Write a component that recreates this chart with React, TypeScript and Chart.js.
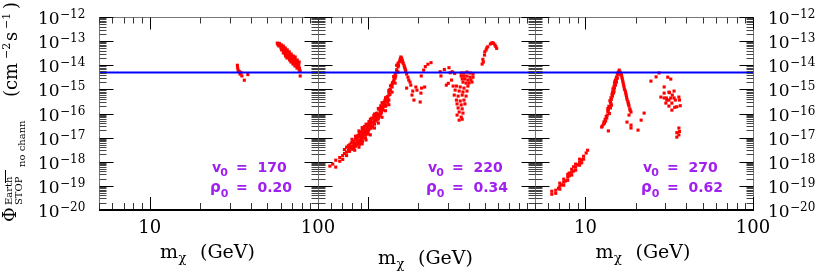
import React, { useEffect, useRef } from "react";
import { Chart, registerables } from "chart.js";
Chart.register(...registerables);

// ---------------- data ----------------
const MASS_MIN = 5;
const MASS_MAX = 100;
const FLUX_MIN = 1e-20;
const FLUX_MAX = 1e-12;
const FLUX_LIMIT = 5e-15;
const Y_TICK_EXPONENTS = [-12, -13, -14, -15, -16, -17, -18, -19, -20];
const MINOR_MULTIPLIERS = [2, 3, 4, 5, 6, 7, 8, 9];
const X_DECADES = [1, 10];
const X_TICK_LABELS = [[10, 100], [], [10, 100]];
const V0_VALUES = ["170", "220", "270"];
const RHO0_VALUES = ["0.20", "0.34", "0.62"];

// panel 1: v0 = 170, rho0 = 0.20  ([m_chi GeV, flux cm^-2 s^-1])
const panel1Points: [number, number][] = [
  [33.2, 1.0e-14], [33.3, 8.1e-15], [33.5, 6.3e-15], [34.2, 5.4e-15], [34.9, 4.9e-15],
  [34.4, 4.3e-15], [35.3, 3.6e-15], [36.5, 2.4e-15], [38.3, 4.1e-15], [33.8, 5.6e-15],
  [57.3, 8.3e-14], [58.9, 7.6e-14], [58.6, 6.3e-14], [57.8, 7.0e-14], [60.5, 7.0e-14],
  [60.2, 5.2e-14], [60.8, 4.3e-14], [62.2, 6.3e-14], [61.8, 5.2e-14], [62.6, 4.0e-14],
  [62.2, 3.3e-14], [63.9, 5.2e-14], [64.3, 4.3e-14], [63.5, 3.6e-14], [63.9, 2.9e-14],
  [64.2, 2.4e-14], [65.7, 4.3e-14], [65.3, 3.6e-14], [66.1, 2.9e-14], [65.7, 2.4e-14],
  [65.4, 2.0e-14], [67.5, 3.6e-14], [67.9, 2.9e-14], [67.1, 2.4e-14], [67.5, 2.0e-14],
  [67.8, 1.65e-14], [69.3, 2.9e-14], [68.9, 2.4e-14], [69.7, 2.0e-14], [69.3, 1.65e-14],
  [69.0, 1.36e-14], [71.3, 2.4e-14], [70.9, 2.0e-14], [71.7, 1.65e-14], [71.3, 1.36e-14],
  [71.0, 1.12e-14], [73.2, 2.2e-14], [72.8, 1.8e-14], [73.6, 1.5e-14], [73.2, 1.2e-14],
  [72.9, 9.3e-15], [75.3, 1.65e-14], [74.9, 1.36e-14], [75.7, 1.12e-14], [75.3, 9.3e-15],
  [75.0, 7.6e-15], [77.3, 1.36e-14], [76.9, 1.0e-14], [77.6, 7.6e-15], [77.3, 6.3e-15],
  [78.4, 3.6e-15], [78.4, 5.8e-15],
  [59.5, 6.8e-14], [61.2, 5.8e-14], [61.5, 4.7e-14], [63.0, 4.7e-14], [63.0, 3.2e-14],
  [64.8, 3.9e-14], [64.8, 2.6e-14], [66.5, 3.2e-14], [66.5, 2.2e-14], [68.4, 2.6e-14],
  [68.4, 1.8e-14], [70.3, 2.2e-14], [70.3, 1.5e-14], [72.2, 1.9e-14], [72.2, 1.25e-14],
  [74.2, 1.55e-14], [74.2, 1.05e-14], [76.2, 1.2e-14], [76.2, 8.4e-15], [59.0, 8.0e-14],
  [58.0, 7.9e-14],
];

// panel 2: v0 = 220, rho0 = 0.34
const panel2Points: [number, number][] = [
  [5.89, 6.6e-19], [6.13, 8.0e-19], [6.39, 6.0e-19], [6.39, 1.16e-18], [6.75, 1.5e-18],
  [6.75, 1.05e-18], [7.03, 1.8e-18], [7.03, 1.25e-18], [7.42, 2.5e-18], [7.42, 4.0e-18],
  [7.42, 1.8e-18], [7.73, 3.6e-18], [7.73, 2.7e-18], [7.73, 5.0e-18], [8.06, 4.4e-18],
  [8.06, 6.5e-18], [8.06, 3.3e-18], [8.39, 5.9e-18], [8.39, 8.7e-18], [8.39, 4.4e-18],
  [8.39, 1.15e-17], [8.86, 7.0e-18], [8.86, 1.05e-17], [8.86, 1.54e-17], [8.86, 5.3e-18],
  [9.23, 9.5e-18], [9.23, 1.4e-17], [9.23, 2.05e-17], [9.23, 7.0e-18], [9.62, 1.25e-17],
  [9.62, 1.85e-17], [9.62, 2.7e-17], [9.62, 9.5e-18], [10.0, 1.85e-17], [10.0, 2.7e-17],
  [10.0, 3.6e-17], [10.0, 1.4e-17], [10.4, 2.45e-17], [10.4, 3.6e-17], [10.4, 5.3e-17],
  [10.9, 3.6e-17], [10.9, 5.3e-17], [10.9, 7.0e-17], [11.3, 5.3e-17], [11.3, 7.8e-17],
  [11.3, 1.04e-16], [11.8, 8.6e-17], [11.8, 1.25e-16], [11.8, 1.7e-16], [12.3, 1.38e-16],
  [12.3, 2.03e-16], [12.3, 2.7e-16], [12.8, 2.25e-16], [12.8, 3.3e-16], [13.3, 3.6e-16],
  [13.3, 5.8e-16], [13.3, 7.7e-16], [13.9, 7.7e-16], [13.9, 1.25e-15], [13.9, 1.65e-15],
  [14.5, 1.82e-15], [14.5, 2.94e-15], [14.5, 4.3e-15], [15.1, 5.2e-15], [15.1, 8.5e-15],
  [15.1, 1.23e-14], [15.5, 1.64e-14], [15.7, 2.2e-14], [15.9, 1.8e-14], [16.1, 1.36e-14],
  [16.4, 1.0e-14], [16.6, 7.6e-15], [16.8, 5.8e-15], [17.0, 4.3e-15], [17.3, 3.2e-15],
  [17.5, 2.43e-15], [17.8, 2.0e-15], [18.0, 1.5e-15],
  [8.2, 5.2e-18], [8.6, 7.5e-18], [9.0, 1.2e-17], [9.4, 1.6e-17], [9.8, 2.2e-17],
  [10.2, 3.1e-17], [10.6, 4.4e-17], [11.1, 6.2e-17], [11.5, 9.0e-17], [12.0, 1.5e-16],
  [12.5, 2.3e-16], [13.0, 3.8e-16], [13.6, 9.0e-16], [14.2, 2.2e-15], [14.8, 6.5e-15],
  [8.6, 1.0e-17], [9.0, 7.8e-18], [9.4, 2.4e-17], [9.8, 1.5e-17], [10.2, 4.4e-17],
  [10.6, 2.9e-17], [11.1, 8.5e-17], [11.5, 6.0e-17], [12.0, 1.05e-16], [12.5, 3.0e-16],
  [13.0, 5.0e-16], [13.6, 1.4e-15], [14.2, 3.4e-15], [14.8, 1.0e-14],
  [7.2, 2.2e-18], [7.2, 3.2e-18], [7.6, 3.0e-18], [7.6, 4.6e-18], [7.9, 4.0e-18],
  [7.9, 6.0e-18], [8.2, 7.0e-18], [8.2, 3.8e-18], [8.5, 5.2e-18], [8.5, 9.8e-18],
  [8.7, 6.2e-18], [8.7, 1.25e-17], [9.1, 8.5e-18], [9.1, 1.7e-17], [9.3, 1.1e-17],
  [9.3, 2.4e-17], [9.5, 1.5e-17], [9.5, 2.9e-17], [9.9, 1.6e-17], [9.9, 3.2e-17],
  [10.1, 2.2e-17], [10.1, 4.6e-17], [10.5, 2.8e-17], [10.5, 6.4e-17], [10.8, 4.1e-17],
  [10.8, 8.2e-17], [11.0, 4.8e-17], [11.2, 1.0e-16], [11.6, 7.4e-17], [11.6, 1.5e-16],
  [11.9, 1.1e-16], [11.9, 2.1e-16], [12.2, 1.7e-16], [12.4, 2.5e-16], [12.6, 3.5e-16],
  [12.7, 2.0e-16], [13.1, 4.5e-16], [13.1, 2.9e-16], [13.5, 1.0e-15], [13.5, 6.2e-16],
  [13.8, 1.4e-15], [14.0, 1.9e-15], [14.3, 2.6e-15], [14.6, 3.6e-15], [14.9, 5.5e-15],
  [15.2, 9.9e-15], [15.4, 1.4e-14], [15.6, 1.9e-14], [15.8, 2.0e-14], [16.0, 1.6e-14],
  [16.2, 1.2e-14], [16.5, 8.5e-15], [16.7, 6.5e-15],
  [8.0, 8.5e-18], [8.3, 3.0e-18], [8.8, 1.9e-17], [8.8, 4.0e-18], [9.2, 2.6e-17],
  [9.2, 5.5e-18], [9.7, 3.6e-17], [9.7, 8.0e-18], [10.3, 5.8e-17], [10.3, 1.3e-17],
  [10.9, 9.5e-17], [10.9, 2.5e-17], [11.5, 1.6e-16], [11.5, 4.0e-17], [12.1, 2.8e-16],
  [12.1, 7.0e-17], [12.7, 4.5e-16], [12.7, 1.3e-16], [13.3, 9.0e-16], [13.3, 2.3e-16],
  [17.0, 1.13e-15], [18.3, 5.8e-16], [18.8, 3.6e-16], [20.5, 3.0e-16], [19.6, 9.3e-16],
  [20.9, 1.13e-15], [21.8, 1.25e-15], [20.7, 7.0e-16], [19.3, 1.25e-15], [18.5, 8.5e-16],
  [20.8, 3.6e-15], [21.5, 6.3e-15], [22.0, 8.8e-15], [22.8, 1.1e-14], [23.8, 1.28e-14],
  [27.0, 5.4e-15], [27.3, 3.6e-15], [28.6, 6.7e-15], [30.5, 7.9e-15], [31.0, 4.9e-15],
  [31.9, 5.4e-15], [33.0, 4.6e-15], [30.2, 1.78e-15], [31.6, 2.43e-15], [29.4, 1.5e-15],
  [32.3, 1.37e-15],
  [36.1, 4.75e-15], [37.5, 4.75e-15], [39.1, 5.2e-15], [40.8, 4.75e-15], [42.5, 4.3e-15],
  [36.1, 3.56e-15], [37.5, 3.56e-15], [39.1, 3.56e-15], [40.8, 3.2e-15], [42.5, 3.2e-15],
  [36.6, 2.7e-15], [38.0, 2.7e-15], [39.6, 2.43e-15], [41.3, 2.43e-15], [37.0, 2.0e-15],
  [38.6, 1.82e-15], [40.2, 1.82e-15], [41.9, 2.0e-15],
  [33.8, 1.37e-15], [35.6, 1.26e-15], [37.5, 1.13e-15], [39.6, 1.37e-15], [33.2, 9.35e-16],
  [35.1, 8.5e-16], [37.0, 7.8e-16], [39.1, 8.5e-16], [32.8, 5.8e-16], [34.6, 5.27e-16],
  [36.6, 5.8e-16], [38.6, 5.27e-16], [33.8, 3.6e-16], [35.6, 3.3e-16], [37.5, 3.6e-16],
  [34.1, 2.5e-16], [36.1, 2.27e-16], [38.0, 2.5e-16], [34.6, 1.7e-16], [36.6, 1.55e-16],
  [35.1, 1.15e-16], [37.0, 1.04e-16], [34.1, 8.6e-17], [36.1, 7.1e-17], [35.1, 5.3e-17],
  [36.6, 5.8e-17],
  [48.2, 1.12e-14], [48.7, 1.76e-14], [49.8, 2.65e-14], [50.9, 4.3e-14], [52.1, 5.86e-14],
  [54.0, 7.6e-14], [55.8, 8.6e-14], [57.5, 6.9e-14], [58.9, 5.0e-14], [51.4, 5.2e-14],
  [55.0, 8.3e-14], [56.5, 8.0e-14], [58.2, 6.0e-14], [49.0, 1.36e-14], [50.0, 3.6e-14],
];

// panel 3: v0 = 270, rho0 = 0.62
const panel3Points: [number, number][] = [
  [6.30, 4.5e-20], [6.30, 6.0e-20], [6.65, 6.6e-20], [6.65, 4.9e-20], [6.9, 8.0e-20],
  [7.03, 9.7e-20], [7.03, 7.3e-20], [7.03, 1.3e-19], [7.42, 1.43e-19], [7.42, 1.07e-19],
  [7.42, 1.9e-19], [7.84, 2.3e-19], [7.84, 1.7e-19], [7.84, 3.0e-19], [8.28, 3.7e-19],
  [8.28, 2.8e-19], [8.28, 4.9e-19], [8.74, 6.0e-19], [8.74, 4.5e-19], [8.74, 8.0e-19],
  [9.23, 9.6e-19], [9.23, 7.2e-19], [9.23, 1.28e-18], [9.75, 1.7e-18], [9.75, 1.28e-18],
  [9.5, 1.2e-18], [10.3, 3.0e-18], [10.1, 2.3e-18], [7.2, 1.1e-19], [7.6, 1.6e-19],
  [8.0, 2.6e-19], [8.5, 4.1e-19], [9.0, 7.5e-19], [9.5, 9.0e-19], [8.0, 3.4e-19],
  [8.5, 6.2e-19],
  [15.9, 6.3e-15], [15.7, 5.2e-15], [15.5, 4.3e-15], [15.3, 3.2e-15], [15.5, 2.9e-15],
  [15.1, 2.43e-15], [14.9, 1.82e-15], [15.1, 1.5e-15], [14.9, 1.13e-15], [14.7, 9.35e-16],
  [14.7, 7.0e-16], [14.5, 5.27e-16], [14.3, 3.9e-16], [14.1, 2.94e-16], [14.3, 2.2e-16],
  [13.9, 1.8e-16], [13.7, 1.38e-16], [13.9, 1.0e-16], [13.5, 8.6e-17], [13.4, 6.5e-17],
  [13.2, 4.9e-17], [13.0, 4.0e-17], [12.6, 3.0e-17], [12.5, 2.73e-17], [13.7, 1.9e-17],
  [12.8, 3.6e-17], [15.3, 2.0e-15], [14.5, 7.7e-16], [14.1, 1.7e-16],
  [15.7, 4.0e-15], [15.3, 2.6e-15], [15.0, 2.1e-15], [14.8, 1.3e-15], [14.6, 1.05e-15],
  [14.4, 6.2e-16], [14.2, 4.5e-16], [14.0, 3.4e-16], [14.2, 2.6e-16], [13.8, 2.0e-16],
  [13.6, 1.2e-16], [13.3, 7.5e-17], [13.1, 5.7e-17], [12.9, 4.5e-17], [13.6, 1.6e-16],
  [15.0, 1.6e-15], [14.8, 8.2e-16],
  [16.1, 5.2e-15], [16.4, 3.9e-15], [16.6, 2.7e-15], [16.8, 1.82e-15], [17.0, 1.25e-15],
  [17.3, 8.5e-16], [17.5, 5.8e-16], [17.7, 3.9e-16], [18.0, 2.7e-16], [18.2, 2.03e-16],
  [18.4, 1.55e-16], [18.7, 1.15e-16], [18.2, 8.6e-17],
  [16.3, 4.5e-15], [16.5, 3.2e-15], [16.7, 2.2e-15], [16.9, 1.5e-15], [17.1, 1.0e-15],
  [17.4, 7.0e-16], [17.6, 4.8e-16], [17.9, 3.2e-16], [18.1, 2.4e-16], [18.5, 1.35e-16],
  [17.7, 4.4e-17], [18.7, 3.3e-17], [20.6, 2.05e-17], [21.5, 5.3e-17], [22.4, 1.04e-16],
  [18.7, 2.5e-17],
  [24.6, 2.2e-15], [26.4, 3.3e-15], [27.5, 4.8e-15], [29.5, 1.26e-15], [31.0, 3.2e-15],
  [32.3, 2.67e-15], [31.7, 7.3e-16], [33.0, 5.8e-16], [33.8, 4.4e-16], [30.4, 4.4e-16],
  [31.5, 3.6e-16], [34.4, 3.6e-16], [36.1, 4.8e-16], [36.4, 3.6e-16], [36.8, 2.1e-16],
  [35.1, 1.9e-16], [34.1, 1.8e-16], [36.1, 2.5e-17], [35.1, 1.6e-17], [36.4, 1.8e-17],
  [36.1, 1.3e-17], [35.1, 1.05e-17], [28.2, 4.8e-16], [29.5, 4.4e-16], [30.6, 3.6e-16],
  [32.3, 4.4e-16], [30.2, 2.7e-16], [31.5, 2.03e-16], [32.8, 2.7e-16], [32.8, 1.38e-16],
  [31.5, 7.7e-16], [33.8, 8.5e-16], [29.5, 7.0e-16],
];

const PANEL_POINTS = [panel1Points, panel2Points, panel3Points];

// ---------------- layout ----------------
const W = 817;
const H = 272;
const PLOT_TOP = 17;
const PLOT_BOTTOM = 210;
const PANEL_LEFT = [99, 318, 535];
const PANEL_RIGHT = [318, 535, 753];
const TITLE_BASELINE = [258, 264, 258];
const ANNOT_X = [212, 428, 643];

const SERIF = '"DejaVu Serif", serif';
const SANS = '"DejaVu Sans", sans-serif';
const PURPLE = "#a020f0";

function makeOverlay(i: number) {
  return {
    id: "overlay" + i,
    afterDatasetsDraw(chart: any) {
      const ctx: CanvasRenderingContext2D = chart.ctx;
      const xs = chart.scales.x;
      const ys = chart.scales.y;
      const { left, right, top, bottom } = chart.chartArea;
      const L = Math.round(left) + 0.5;
      const R = Math.round(right) + 0.5;
      const T = Math.round(top) + 0.5;
      const B = Math.round(bottom);

      ctx.save();
      const line = (x1: number, y1: number, x2: number, y2: number, c: string, w = 1) => {
        ctx.strokeStyle = c;
        ctx.lineWidth = w;
        ctx.beginPath();
        ctx.moveTo(x1, y1);
        ctx.lineTo(x2, y2);
        ctx.stroke();
      };

      // frame
      line(L, T, L, B, "#777");
      line(R, T, R, B, "#777");
      line(L, T, R, T, "#777");
      ctx.fillStyle = "#000";
      ctx.fillRect(Math.round(left), B - 1, Math.round(right) - Math.round(left) + 1, 2);

      // y ticks (both sides, inward)
      const yTick = (v: number, len: number, c: string) => {
        const y = Math.round(ys.getPixelForValue(v)) + 0.5;
        line(L, y, L + len, y, c);
        line(R - len, y, R, y, c);
      };
      Y_TICK_EXPONENTS.forEach((e) => yTick(Math.pow(10, e), 14, "#000"));
      Y_TICK_EXPONENTS.slice(1).forEach((e) => {
        MINOR_MULTIPLIERS.forEach((k) => yTick(k * Math.pow(10, e), 7, "#444"));
      });

      // x ticks (top and bottom, inward)
      const xTick = (v: number, len: number, c: string) => {
        if (v < MASS_MIN - 1e-9 || v > MASS_MAX + 1e-9) return;
        const x = Math.round(xs.getPixelForValue(v)) + 0.5;
        line(x, B - 1, x, B - 1 - len, c);
        line(x, T, x, T + len, c);
      };
      X_DECADES.forEach((d) => {
        for (let k = 1; k <= 9; k++) {
          xTick(k * d, k === 1 ? 12 : 6, k === 1 ? "#000" : "#333");
        }
      });
      xTick(100, 12, "#000");

      // x tick labels
      ctx.fillStyle = "#000";
      ctx.font = "18px " + SERIF;
      ctx.textAlign = "center";
      ctx.textBaseline = "alphabetic";
      X_TICK_LABELS[i].forEach((v) => {
        ctx.fillText(String(v), xs.getPixelForValue(v), 233);
      });

      // x axis title  m_chi (GeV)
      const cx = (left + right) / 2 - 1;
      const x0 = cx - 47.5;
      const tb = TITLE_BASELINE[i];
      ctx.textAlign = "left";
      ctx.font = "19px " + SERIF;
      ctx.fillText("m", x0, tb);
      const mw = ctx.measureText("m").width;
      ctx.font = "13px " + SERIF;
      ctx.fillText("\u03c7", x0 + mw + 0.5, tb + 4);
      ctx.font = "19px " + SERIF;
      ctx.textAlign = "right";
      ctx.fillText("(GeV)", x0 + 95, tb);

      // annotation
      ctx.textAlign = "left";
      ctx.fillStyle = PURPLE;
      const ax = ANNOT_X[i];
      ctx.font = "bold 14px " + SANS;
      ctx.fillText("v", ax, 172);
      const vw = ctx.measureText("v").width;
      ctx.fillText("=", ax + 24, 172);
      ctx.fillText(V0_VALUES[i], ax + 45.5, 172);
      ctx.font = "bold 11px " + SANS;
      ctx.fillText("0", ax + vw - 1, 176);
      ctx.font = "bold 15px " + SANS;
      ctx.fillText("\u03c1", ax - 2, 192);
      const rw = ctx.measureText("\u03c1").width;
      ctx.font = "bold 14px " + SANS;
      ctx.fillText("=", ax + 24, 192);
      ctx.fillText(RHO0_VALUES[i], ax + 45.5, 192);
      ctx.font = "bold 11px " + SANS;
      ctx.fillText("0", ax - 2 + rw, 197);

      // y tick labels
      ctx.fillStyle = "#000";
      const yLabels = (xBase: number) => {
        Y_TICK_EXPONENTS.forEach((e) => {
          const y = ys.getPixelForValue(Math.pow(10, e));
          ctx.font = "17px " + SERIF;
          ctx.fillText("10", xBase, y + 7);
          ctx.font = "12px " + SERIF;
          ctx.fillText("\u2212" + Math.abs(e), xBase + 22, y + 1);
        });
      };
      if (i === 0) {
        yLabels(38);
        // rotated y-axis title
        ctx.save();
        ctx.rotate(-Math.PI / 2);
        const rt = (s: string, pageY: number, pageX: number, font: string) => {
          ctx.font = font;
          ctx.fillText(s, -pageY, pageX);
        };
        rt("\u03a6", 222, 16, "18px " + SERIF);
        rt("Earth", 205, 12, "10px " + SERIF);
        rt("STOP", 205, 22, "10px " + SERIF);
        rt("no chann", 167, 25, "10px " + SERIF);
        rt("(cm", 97, 17, "18px " + SERIF);
        rt("\u22122", 59, 10, "11px " + SERIF);
        rt("s", 41, 17, "18px " + SERIF);
        rt("\u22121", 29, 10, "11px " + SERIF);
        rt(")", 9, 17, "18px " + SERIF);
        ctx.restore();
        line(5.5, 170, 5.5, 183, "#000");
      }
      if (i === 2) {
        yLabels(768);
      }
      ctx.restore();
    },
  };
}

function Panel({ index }: { index: number }) {
  const ref = useRef<HTMLCanvasElement | null>(null);
  useEffect(() => {
    if (!ref.current) return;
    const pts = PANEL_POINTS[index];
    const chart = new Chart(ref.current, {
      type: "scatter",
      data: {
        datasets: [
          {
            data: [
              { x: MASS_MIN, y: FLUX_LIMIT },
              { x: MASS_MAX, y: FLUX_LIMIT },
            ],
            showLine: true,
            borderColor: "#0000ff",
            borderWidth: 2,
            pointRadius: 0,
            order: 0,
          } as any,
          {
            data: pts.map(([m, f]) => ({ x: m, y: f })),
            pointStyle: "rect",
            pointRadius: 2.2,
            backgroundColor: "#ff0000",
            borderWidth: 0,
            order: 1,
          } as any,
        ],
      },
      options: {
        responsive: false,
        animation: false,
        events: [],
        layout: {
          padding: {
            left: PANEL_LEFT[index],
            right: W - PANEL_RIGHT[index],
            top: PLOT_TOP,
            bottom: H - PLOT_BOTTOM,
          },
        },
        scales: {
          x: { type: "logarithmic", min: MASS_MIN, max: MASS_MAX, display: false },
          y: { type: "logarithmic", min: FLUX_MIN, max: FLUX_MAX, display: false },
        },
        plugins: { legend: { display: false }, tooltip: { enabled: false } },
      } as any,
      plugins: [makeOverlay(index)],
    });
    return () => chart.destroy();
  }, [index]);
  return (
    <canvas
      ref={ref}
      width={W}
      height={H}
      style={{ position: "absolute", left: 0, top: 0, width: W, height: H }}
    />
  );
}

export default function App() {
  return (
    <div
      style={{
        position: "fixed",
        left: 0,
        top: 0,
        width: W,
        height: H,
        background: "#fff",
        overflow: "hidden",
      }}
    >
      <Panel index={0} />
      <Panel index={1} />
      <Panel index={2} />
    </div>
  );
}
